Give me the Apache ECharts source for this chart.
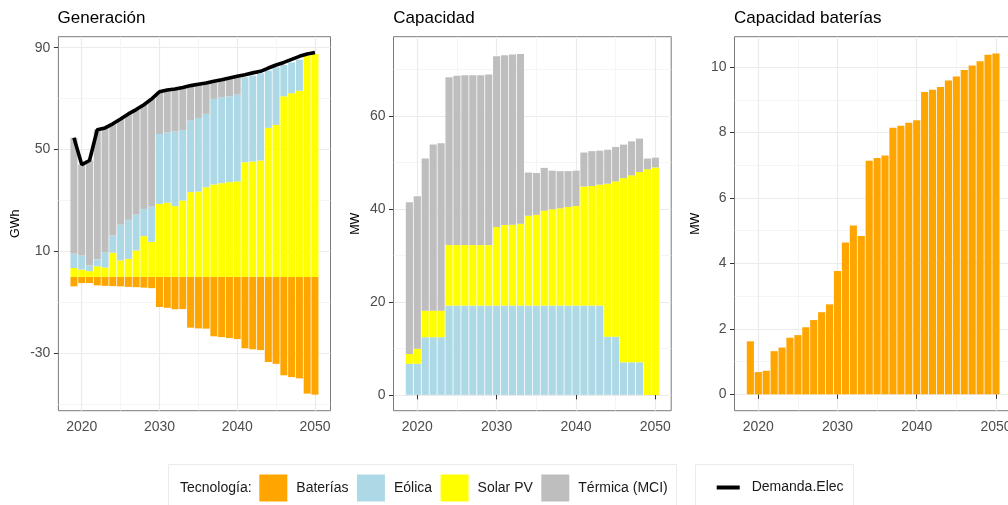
<!DOCTYPE html>
<html><head><meta charset="utf-8">
<script src="https://cdn.jsdelivr.net/npm/echarts@6/dist/echarts.min.js"></script>
<style>html,body{margin:0;padding:0;background:#fff}#c{width:1008px;height:505px}</style>
</head><body><div id="c"></div>
<script>
// ---------- data ----------
const years = [2019,2020,2021,2022,2023,2024,2025,2026,2027,2028,2029,2030,2031,2032,2033,2034,2035,2036,2037,2038,2039,2040,2041,2042,2043,2044,2045,2046,2047,2048,2049,2050];
// Generación (GWh)
const genBaterias = [-3.7,-2.4,-2.4,-3.3,-3.5,-3.6,-3.7,-3.9,-4.0,-4.2,-4.4,-11.8,-12.1,-12.7,-12.6,-19.9,-20.2,-20.3,-23.3,-23.6,-24.0,-24.4,-28.0,-28.4,-28.7,-33.4,-34.1,-38.6,-39.3,-39.8,-45.8,-46.2];
const genSolar = [3.5,2.9,2.3,4.2,3.7,9.5,6.5,7.1,10.4,16.0,13.8,28.7,29.1,27.8,30.0,33.3,33.5,35.2,36.3,36.8,37.2,37.5,45.0,45.3,45.7,58.5,59.7,70.9,72.1,73.1,86.9,87.5];
const genEolica = [5.6,5.5,2.2,2.7,6.0,6.8,14.0,15.3,14.1,10.7,13.8,27.4,27.7,29.3,27.7,28.1,28.9,28.8,33.6,33.7,33.7,34.1,33.4,33.7,34.2,22.5,22.6,12.3,12.1,12.2,0,0];
const genTermica = [45.5,35.7,41.2,50.9,48.8,43.8,41.5,41.6,41.2,40.9,42.3,16.6,16.6,16.7,16.7,13.7,13.2,12.1,6.9,6.9,7.2,7.2,0,0,0,0,0,0,0,0,0,0];
const demandaElec = [54.6,44.1,45.7,57.8,58.5,60.1,62.0,64.0,65.7,67.6,69.9,72.7,73.4,73.8,74.4,75.1,75.6,76.1,76.8,77.4,78.1,78.8,79.4,80.1,80.7,82.0,83.2,84.2,85.4,86.6,87.5,88.1];
// Capacidad (MW)
const capEolica = [6.7,6.7,12.4,12.4,12.4,19.2,19.2,19.2,19.2,19.2,19.2,19.2,19.2,19.2,19.2,19.2,19.2,19.2,19.2,19.2,19.2,19.2,19.2,19.2,19.2,12.5,12.5,7.0,7.0,7.0,0,0];
const capSolar = [2.1,3.2,5.7,5.7,5.7,13.0,13.0,13.0,13.0,13.0,13.0,16.9,17.3,17.4,17.6,19.3,19.5,20.4,20.7,20.9,21.2,21.4,25.6,25.7,26.0,32.9,33.4,39.6,40.2,40.9,48.5,48.9];
const capTermica = [32.6,32.8,32.7,35.7,36.0,36.1,36.4,36.5,36.5,36.5,36.7,36.7,36.5,36.6,36.5,9.3,9.0,9.2,8.3,8.0,7.7,7.6,7.3,7.5,7.3,7.3,7.4,7.2,7.3,7.2,2.3,2.1];
// Capacidad baterías (MW)
const capBaterias = [1.62,0.68,0.72,1.32,1.43,1.73,1.81,2.05,2.27,2.51,2.75,3.77,4.64,5.16,4.84,7.14,7.22,7.30,8.15,8.21,8.30,8.38,9.24,9.31,9.39,9.59,9.71,9.91,10.05,10.18,10.38,10.42];
// labels
const panelTitles = ['Generación','Capacidad','Capacidad baterías'];
const yAxisNames = ['GWh','MW','MW'];
const yMajorTicks = [[-30,10,50,90],[0,20,40,60],[0,2,4,6,8,10]];
const yMinorTicks = [[-50,-10,30,70],[10,30,50,70],[1,3,5,7,9]];
const techNames = ['Baterías','Eólica','Solar PV','Térmica (MCI)'];
const lineName = 'Demanda.Elec';
const legendTitle = 'Tecnología:';

// ---------- layout / style ----------
const COL = {'Baterías':'#FFA500','Eólica':'#ADD8E6','Solar PV':'#FFFF00','Térmica (MCI)':'#BEBEBE'};
const FONT = "'Liberation Sans', Arial, sans-serif";
const axisYears = ['2017','2018'].concat(years.map(String), ['2051','2052']);
const grids = [
  {left:58.4, top:36.7, width:272.1, height:374},
  {left:393.5, top:36.7, width:277.7, height:374},
  {left:734.5, top:36.7, width:277.3, height:374}
];
const yRange = [[-52.5,94.3],[-3.4,77.0],[-0.5,10.93]];
const nameGaps = [36,31,32];
const titleLeft = [57.5,393.3,734];

function pairs(arr){ return years.map((y,i)=>[String(y), arr[i]]); }

const xAxes = [], yAxes = [];
grids.forEach((g,i)=>{
  xAxes.push({
    type:'category', gridIndex:i, data:axisYears, boundaryGap:false,
    axisLine:{show:false},
    axisTick:{show:true, length:4.5, lineStyle:{color:'#333'}, interval:(idx,v)=>Number(v)%10===0},
    axisLabel:{color:'#4D4D4D', fontSize:14, fontFamily:FONT, margin:9, interval:(idx,v)=>Number(v)%10===0},
    splitLine:{show:true, interval:(idx,v)=>Number(v)%10===0, lineStyle:{color:'#EBEBEB', width:1.2}}
  });
  xAxes.push({
    type:'category', gridIndex:i, data:axisYears, boundaryGap:false,
    axisLine:{show:false}, axisTick:{show:false}, axisLabel:{show:false},
    splitLine:{show:true, interval:(idx,v)=>Number(v)%10===5, lineStyle:{color:'#F2F2F2', width:0.8}}
  });
  yAxes.push({
    type:'value', gridIndex:i, min:yRange[i][0], max:yRange[i][1],
    name:yAxisNames[i], nameLocation:'middle', nameGap:nameGaps[i],
    nameTextStyle:{color:'#000', fontSize:12.5, fontFamily:FONT},
    axisLine:{show:false},
    axisTick:{show:true, length:4.5, lineStyle:{color:'#333'}, customValues:yMajorTicks[i]},
    axisLabel:{color:'#4D4D4D', fontSize:14, fontFamily:FONT, margin:8, customValues:yMajorTicks[i]},
    splitLine:{show:true, lineStyle:{color:'#EBEBEB', width:1.2}}
  });
  yAxes.push({
    type:'value', gridIndex:i, min:yRange[i][0], max:yRange[i][1],
    axisLine:{show:false}, axisLabel:{show:false},
    axisTick:{show:false, customValues:yMinorTicks[i]},
    splitLine:{show:true, lineStyle:{color:'#F2F2F2', width:0.8}}
  });
});

function bar(name, arr, gi, stack){
  return {type:'bar', name, stack, xAxisIndex:gi*2, yAxisIndex:gi*2,
    data:pairs(arr), barCategoryGap:'10%', itemStyle:{color:COL[name]}, emphasis:{disabled:true}};
}

const series = [
  bar('Baterías', genBaterias, 0, 'gen'),
  bar('Solar PV', genSolar, 0, 'gen'),
  bar('Eólica', genEolica, 0, 'gen'),
  bar('Térmica (MCI)', genTermica, 0, 'gen'),
  {type:'line', name:lineName, xAxisIndex:0, yAxisIndex:0, data:pairs(demandaElec),
   symbol:'none', itemStyle:{color:'#000'}, lineStyle:{color:'#000', width:3.6}, z:5},
  bar('Eólica', capEolica, 1, 'cap'),
  bar('Solar PV', capSolar, 1, 'cap'),
  bar('Térmica (MCI)', capTermica, 1, 'cap'),
  bar('Baterías', capBaterias, 2, 'bat')
];

const option = {
  animation:false,
  backgroundColor:'#fff',
  textStyle:{fontFamily:FONT},
  title: panelTitles.map((t,i)=>({text:t, left:titleLeft[i], top:10, padding:0,
    textStyle:{fontSize:17, fontWeight:'normal', color:'#000', fontFamily:FONT}})),
  grid: grids.map(g=>Object.assign({show:true, backgroundColor:'#fff', borderColor:'#7a7a7a', borderWidth:1, containLabel:false, outerBoundsMode:'none'}, g)),
  xAxis:xAxes, yAxis:yAxes,
  legend:[
    {left:259.3, top:474.5, orient:'horizontal', padding:0, itemWidth:28, itemHeight:27, itemGap:8.5,
     icon:'rect', data:techNames, textStyle:{fontSize:14, color:'#1a1a1a', fontFamily:FONT, padding:[0,0,0,4]}},
    {left:716.7, top:480.5, orient:'horizontal', padding:0, itemWidth:23, itemHeight:4,
     data:[{name:lineName, icon:'rect'}], textStyle:{fontSize:14, color:'#1a1a1a', fontFamily:FONT, padding:[0,0,0,7]}}
  ],
  graphic:[
    {type:'rect', shape:{x:168.5, y:464.5, width:508, height:50}, style:{fill:'none', stroke:'#EBEBEB', lineWidth:1}, silent:true},
    {type:'rect', shape:{x:695.5, y:464.5, width:158, height:50}, style:{fill:'none', stroke:'#EBEBEB', lineWidth:1}, silent:true},
    {type:'text', x:180, y:488, style:{text:legendTitle, fontSize:14, fill:'#1a1a1a', fontFamily:FONT, verticalAlign:'middle'}, silent:true}
  ],
  series
};
const chart = echarts.init(document.getElementById('c'), null, {renderer:'canvas'});
chart.setOption(option);
</script></body></html>
